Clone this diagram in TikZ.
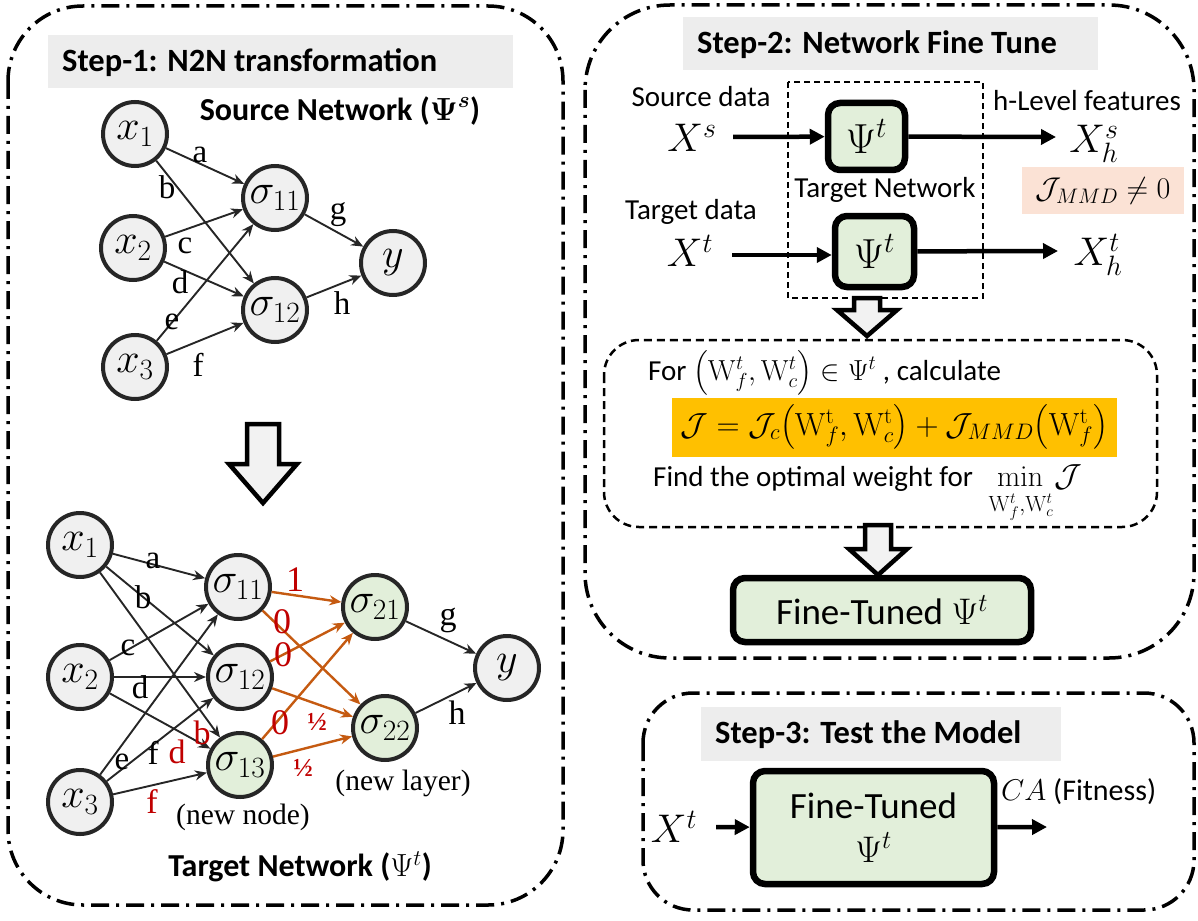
\documentclass[tikz,border=0pt]{standalone}
\usepackage{fix-cm}
\usepackage{amsmath}
\usepackage[no-math]{fontspec}
\setmainfont{Carlito}
\newfontfamily\tnr{Liberation Serif}
\usetikzlibrary{arrows.meta,calc}
\definecolor{nodegray}{HTML}{F0F0F0}
\definecolor{nodegreen}{HTML}{E2EFDA}
\definecolor{edgeorange}{HTML}{C55A11}
\definecolor{lblred}{HTML}{C00000}
\definecolor{bandgray}{HTML}{EDEDED}
\definecolor{peach}{HTML}{FBE2D5}
\definecolor{gold}{HTML}{FFC000}
\definecolor{ink}{HTML}{262626}
\definecolor{arrowfill}{HTML}{F2F2F2}
\newcommand\hollowdown[6]{% cx, ytop, ybase, ytip, shaft half, head half
  \draw[line width=4.5pt, fill=arrowfill, line join=miter, miter limit=10]
    (#1-#5,#2) -- (#1+#5,#2) -- (#1+#5,#3) -- (#1+#6,#3) -- (#1,#4)
    -- (#1-#6,#3) -- (#1-#5,#3) -- cycle;}
\begin{document}
\begin{tikzpicture}[x=1pt,y=-1pt,
  frame/.style={draw=black,line width=3.5pt,dash pattern=on 18pt off 7pt on 3pt off 7pt},
  neuron/.style={circle,draw=ink,line width=4pt,fill=nodegray,minimum size=64pt,inner sep=0pt,font=\fontsize{42}{42}\selectfont},
  newneuron/.style={neuron,fill=nodegreen},
  wedge/.style={draw=ink,line width=1.9pt,-{Stealth[length=12pt,width=10pt]}},
  oedge/.style={draw=edgeorange,line width=2.4pt,-{Stealth[length=12pt,width=10pt]}},
  elbl/.style={font=\tnr\fontsize{33}{33}\selectfont,inner sep=0pt},
  rlbl/.style={font=\tnr\fontsize{34}{34}\selectfont,inner sep=0pt,text=lblred},
  rnum/.style={font=\tnr\fontsize{36}{36}\selectfont,inner sep=0pt,text=lblred},
  rhalf/.style={font=\tnr\bfseries\fontsize{26}{26}\selectfont,inner sep=0pt,text=lblred},
  title/.style={font=\bfseries\fontsize{32.5}{34}\selectfont,inner sep=0pt},
  sans/.style={font=\fontsize{29}{32}\selectfont,inner sep=0pt},
  bigmath/.style={font=\fontsize{40}{40}\selectfont,inner sep=0pt},
  psibox/.style={draw=black,line width=6.5pt,rounded corners=12pt,fill=nodegreen,inner sep=0pt,font=\fontsize{37}{40}\selectfont},
  flow/.style={draw=black,line width=4.5pt,-{Triangle[length=15pt,width=15pt]}}
]
\useasboundingbox (0,0) rectangle (1198,920);

% ---------- frames ----------
\draw[frame,rounded corners=75pt] (8,6) rectangle (563,905);
\draw[frame,rounded corners=85pt] (585,5) rectangle (1194,658);
\draw[frame,rounded corners=50pt] (643,693) rectangle (1194,910);

% ---------- Step 1 ----------
\fill[bandgray] (48,35) rectangle (513,88);
\node[title,anchor=west] (t1) at (62,63) {Step-1: N2N transformation};
\node[title,font=\bfseries\fontsize{32}{34}\selectfont] (srcnet) at (340,111) {Source Network ($\boldsymbol{\Psi}^{\boldsymbol{s}}$)};

\node[neuron] (tx1) at (135,134) {$x_1$};
\node[neuron] (tx2) at (133,248) {$x_2$};
\node[neuron] (tx3) at (135,367) {$x_3$};
\node[neuron] (ts11) at (275,198) {$\sigma_{11}$};
\node[neuron] (ts12) at (275,310) {$\sigma_{12}$};
\node[neuron] (ty) at (393,263) {$y$};

\draw[wedge] (tx1) -- (ts11);
\draw[wedge] (tx1) -- (ts12);
\draw[wedge] (tx2) -- (ts11);
\draw[wedge] (tx2) -- (ts12);
\draw[wedge] (tx3) -- (ts11);
\draw[wedge] (tx3) -- (ts12);
\draw[wedge] (ts11) -- (ty);
\draw[wedge] (ts12) -- (ty);

\node[elbl] (ta) at (200,155) {a};
\node[elbl] (tb) at (167,187) {b};
\node[elbl] (tc) at (185,246) {c};
\node[elbl] (td) at (180,282) {d};
\node[elbl] (te) at (172,322) {e};
\node[elbl] (tf) at (198,365) {f};
\node[elbl] (tg) at (338,215) {g};
\node[elbl] (th) at (342,303) {h};

\hollowdown{263}{424}{464}{503}{16}{34}

% bottom network
\node[neuron] (bx1) at (80,545) {$x_1$};
\node[neuron] (bx2) at (80,677) {$x_2$};
\node[neuron] (bx3) at (80,802) {$x_3$};
\node[neuron] (bs11) at (238,587) {$\sigma_{11}$};
\node[neuron] (bs12) at (240,677) {$\sigma_{12}$};
\node[newneuron] (bs13) at (240,765) {$\sigma_{13}$};
\node[newneuron] (bs21) at (375,607) {$\sigma_{21}$};
\node[newneuron] (bs22) at (385,728) {$\sigma_{22}$};
\node[neuron] (by) at (507,668) {$y$};

\foreach \s in {bx1,bx2,bx3}{
  \foreach \t in {bs11,bs12,bs13}{
    \draw[wedge] (\s) -- (\t);
  }
}
\foreach \s in {bs11,bs12,bs13}{
  \foreach \t in {bs21,bs22}{
    \draw[oedge] (\s) -- (\t);
  }
}
\draw[wedge] (bs21) -- (by);
\draw[wedge] (bs22) -- (by);

\node[elbl] (ba) at (153,561) {a};
\node[elbl] (bb) at (143,597) {b};
\node[elbl] (bc) at (128,648) {c};
\node[elbl] (bd) at (140,687) {d};
\node[elbl] (be) at (122,762) {e};
\node[elbl] (bf) at (153,753) {f};
\node[rlbl] (rd) at (177,752) {d};
\node[rlbl] (rb) at (202,733) {b};
\node[rlbl] (rf) at (152,802) {f};
\node[rnum] (w1) at (295,580) {1};
\node[rnum] (w2) at (282,622) {0};
\node[rnum] (w3) at (283,655) {0};
\node[rnum] (w4) at (280,723) {0};
\node[rhalf] (w5) at (317,722) {½};
\node[rhalf] (w6) at (303,768) {½};
\node[elbl,font=\tnr\fontsize{34}{34}\selectfont] (bg) at (448,620) {g};
\node[elbl,font=\tnr\fontsize{34}{34}\selectfont] (bh) at (457,713) {h};
\node[elbl,font=\tnr\fontsize{29.5}{30}\selectfont] (newnode) at (243,817) {(new node)};
\node[elbl,font=\tnr\fontsize{29.5}{30}\selectfont] (newlayer) at (403,783) {(new layer)};
\node[title,font=\bfseries\fontsize{32}{34}\selectfont] (tgtnet) at (300,867) {Target Network ($\Psi^{t}$)};

% ---------- Step 2 ----------
\fill[bandgray] (683,17) rectangle (1098,70);
\node[title,anchor=west] (t2) at (697,45) {Step-2: Network Fine Tune};

\draw[line width=1.5pt,dash pattern=on 6pt off 4pt] (788,82) rectangle (983,298);
\node[sans] (srcdata) at (701,97) {Source data};
\node[bigmath] (Xs) at (692,138) {$X^{s}$};
\node[psibox,minimum width=77pt,minimum height=67pt,font=\fontsize{42}{42}\selectfont] (psi1) at (866.5,136.5) {$\Psi^{t}$};
\coordinate (xsout) at (733,137);
\coordinate (xhsin) at (1056,137);
\draw[flow] (xsout) -- (psi1);
\draw[flow] (psi1) -- (xhsin);
\node[sans,anchor=west] (hlevel) at (993,101) {h-Level features};
\node[bigmath] (Xhs) at (1094,144) {$X_{h}^{s}$};
\node[sans] (tgtnetlbl) at (885,190) {Target Network};
\fill[peach] (1022,167) rectangle (1184,214);
\node[font=\fontsize{30}{30}\selectfont,inner sep=0pt] (jmmd) at (1103,191) {$\mathcal{J}_{MMD}\neq 0$};
\node[sans] (tgtdata) at (691,212) {Target data};
\node[bigmath] (Xt) at (690,251) {$X^{t}$};
\node[psibox,minimum width=79pt,minimum height=71pt,font=\fontsize{42}{42}\selectfont] (psi2) at (874.5,251.5) {$\Psi^{t}$};
\coordinate (xtout) at (732,255);
\coordinate (xhtin) at (1058,251);
\draw[flow] (xtout) -- (xtout -| psi2.west);
\draw[flow] (psi2) -- (xhtin);
\node[bigmath] (Xht) at (1098,255) {$X_{h}^{t}$};

\hollowdown{867}{298}{310}{336}{13}{30}

\draw[line width=2.5pt,dash pattern=on 8pt off 5pt,rounded corners=35pt] (604,340) rectangle (1157,527);
\node[sans,anchor=base west] (forline) at (648,380) {For $\big(\mathrm{W}_{f}^{t},\mathrm{W}_{c}^{t}\big)\in\Psi^{t}$ , calculate};
\fill[gold] (672,398) rectangle (1117,457);
\node[font=\fontsize{32}{32}\selectfont,inner sep=0pt] (formula) at (894,427)
  {$\mathcal{J}=\mathcal{J}_{c}\big(\mathrm{W}_{f}^{\mathrm{t}},\mathrm{W}_{c}^{\mathrm{t}}\big)+\mathcal{J}_{MMD}\big(\mathrm{W}_{f}^{\mathrm{t}}\big)$};
\node[sans,anchor=base west] (findline) at (653,486) {Find the optimal weight for};
\node[font=\fontsize{30}{30}\selectfont,inner sep=0pt,anchor=base west] (minop) at (997,486) {$\mathrm{min}$};
\node[font=\fontsize{22}{22}\selectfont,inner sep=0pt] (minsub) at (1021,507) {$\mathrm{W}_{f}^{t}{,}\mathrm{W}_{c}^{t}$};
\node[font=\fontsize{32}{32}\selectfont,inner sep=0pt,anchor=base west] (minJ) at (1054,486) {$\mathcal{J}$};

\hollowdown{878}{525}{549}{575}{13}{29}

\node[psibox,minimum width=298pt,minimum height=64pt] (ft2) at (882,610) {Fine-Tuned $\Psi^{t}$};

% ---------- Step 3 ----------
\fill[bandgray] (701,707) rectangle (1061,761);
\node[title,anchor=west] (t3) at (715,735) {Step-3: Test the Model};
\node[psibox,minimum width=241pt,minimum height=113pt,align=center] (ft3) at (873.5,827.5) {Fine-Tuned\\[4pt]$\Psi^{t}$};
\node[bigmath] (Xt3) at (674,827) {$X^{t}$};
\coordinate (xt3out) at (716,827);
\coordinate (caend) at (1047,827);
\draw[flow] (xt3out) -- (ft3);
\draw[flow] (ft3) -- (caend);
\node[sans,font=\fontsize{30}{32}\selectfont,anchor=west] (ca) at (1001,792) {$CA$ (Fitness)};
\end{tikzpicture}
\end{document}
